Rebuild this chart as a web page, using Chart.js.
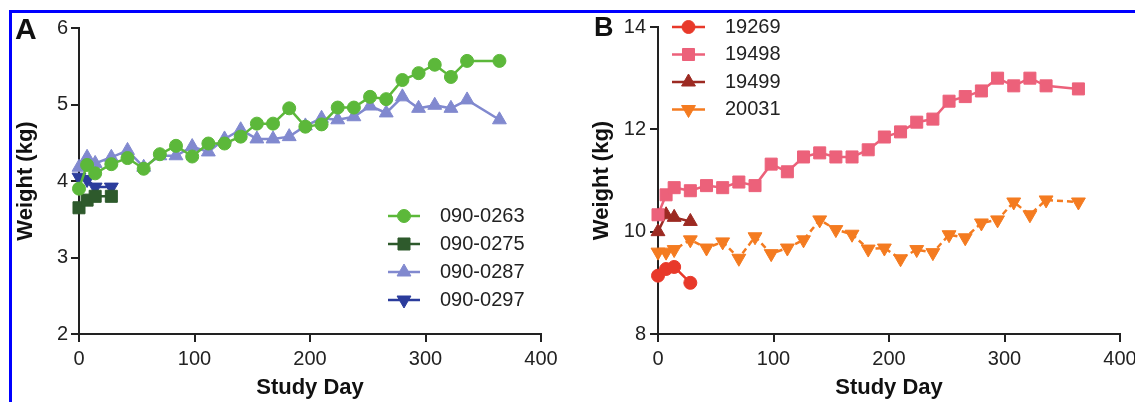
<!DOCTYPE html>
<html>
<head>
<meta charset="utf-8">
<script src="https://cdn.jsdelivr.net/npm/chart.js@4.4.1/dist/chart.umd.min.js"></script>
<style>
  html, body { margin: 0; padding: 0; background: #fff; }
  #fig { position: relative; width: 1135px; height: 402px; overflow: hidden; font-family: "Liberation Sans", Arial, sans-serif; }
  #frame { position: absolute; left: 9px; top: 10px; width: 1300px; height: 600px; border-top: 3px solid #0000ff; border-left: 3px solid #0000ff; }
  canvas { position: absolute; top: 0; }
  .tag { position: absolute; font-weight: bold; line-height: 1; color: #111; }
</style>
</head>
<body>
<div id="fig">
  <div id="frame"></div>
  <canvas id="chartA" width="567" height="402" style="left:0"></canvas>
  <canvas id="chartB" width="568" height="402" style="left:567px"></canvas>
  <div class="tag" style="left:15px;top:14px;font-size:30px">A</div>
  <div class="tag" style="left:594px;top:14px;font-size:27px">B</div>
</div>
<script>
// study days (long and short follow-up)
const daysLong = [0, 7, 14, 28, 42, 56, 70, 84, 98, 112, 126, 140, 154, 168, 182, 196, 210, 224, 238, 252, 266, 280, 294, 308, 322, 336, 364];
const daysShort = [0, 7, 14, 28];

// panel A weights (kg)
const w0263 = [3.90, 4.21, 4.10, 4.22, 4.30, 4.16, 4.35, 4.46, 4.32, 4.49, 4.49, 4.58, 4.75, 4.75, 4.95, 4.71, 4.74, 4.96, 4.96, 5.10, 5.07, 5.32, 5.41, 5.52, 5.36, 5.57, 5.57];
const w0275 = [3.65, 3.75, 3.80, 3.80];
const w0287 = [4.18, 4.31, 4.23, 4.31, 4.40, 4.18, 4.33, 4.33, 4.45, 4.38, 4.55, 4.67, 4.55, 4.55, 4.58, 4.72, 4.82, 4.80, 4.84, 4.98, 4.89, 5.10, 4.95, 4.99, 4.95, 5.06, 4.80];
const w0297 = [4.05, 4.02, 3.92, 3.92];

// panel B weights (kg)
const w19269 = [9.14, 9.27, 9.31, 9.00];
const w19498 = [10.33, 10.72, 10.86, 10.80, 10.90, 10.86, 10.97, 10.90, 11.32, 11.17, 11.46, 11.54, 11.46, 11.46, 11.60, 11.85, 11.95, 12.14, 12.20, 12.55, 12.64, 12.75, 13.00, 12.85, 13.00, 12.85, 12.79];
const w19499 = [10.00, 10.33, 10.28, 10.20];
const w20031 = [9.60, 9.60, 9.65, 9.84, 9.68, 9.80, 9.48, 9.90, 9.57, 9.68, 9.84, 10.23, 10.04, 9.95, 9.66, 9.68, 9.47, 9.65, 9.59, 9.94, 9.88, 10.17, 10.23, 10.58, 10.33, 10.62, 10.58];

const xTicks = [0, 100, 200, 300, 400];
const yTicksA = [2, 3, 4, 5, 6];
const yTicksB = [8, 10, 12, 14];

const FONT = '"Liberation Sans", Arial, sans-serif';
const INK = '#222';

function pts(days, vals) {
  return days.map((d, i) => ({ x: d, y: vals[i] }));
}

function series(label, days, vals, color, style, radius, rotation, dash) {
  return {
    label: label,
    data: pts(days, vals),
    borderColor: color,
    backgroundColor: color,
    borderWidth: 2.5,
    borderDash: dash || [],
    pointStyle: style,
    pointRadius: radius,
    pointRotation: rotation || 0,
    pointBackgroundColor: color,
    pointBorderColor: color,
    pointBorderWidth: 1,
    tension: 0,
    clip: false
  };
}

// legend with a short line through the marker, like the original figure
const lineLegend = {
  id: 'lineLegend',
  afterDatasetsDraw(chart, args, opts) {
    const ctx = chart.ctx;
    ctx.save();
    chart.data.datasets.forEach((ds, i) => {
      const y = opts.y + i * opts.gap;
      ctx.strokeStyle = ds.borderColor;
      ctx.lineWidth = ds.borderWidth;
      ctx.beginPath();
      ctx.moveTo(opts.x, y);
      ctx.lineTo(opts.x + opts.len, y);
      ctx.stroke();
      ctx.fillStyle = ds.pointBackgroundColor;
      ctx.strokeStyle = ds.pointBorderColor;
      ctx.lineWidth = 1;
      Chart.helpers.drawPoint(ctx, {
        pointStyle: ds.pointStyle,
        radius: ds.pointRadius,
        rotation: ds.pointRotation,
        borderWidth: 1
      }, opts.x + opts.len / 2, y);
      ctx.fillStyle = INK;
      ctx.font = '20px ' + FONT;
      ctx.textAlign = 'left';
      ctx.textBaseline = 'middle';
      ctx.fillText(ds.label, opts.textX, y);
    });
    ctx.restore();
  }
};

function makeChart(id, datasets, yMin, yMax, yTicks, geo) {
  return new Chart(document.getElementById(id), {
    type: 'line',
    data: { datasets: datasets },
    plugins: [lineLegend],
    options: {
      responsive: false,
      animation: false,
      devicePixelRatio: 1,
      layout: { padding: { left: 0, top: geo.top, right: geo.right, bottom: 0 } },
      plugins: {
        legend: { display: false },
        tooltip: { enabled: false },
        lineLegend: geo.legend
      },
      scales: {
        x: {
          type: 'linear',
          min: 0,
          max: 400,
          afterBuildTicks: s => { s.ticks = xTicks.map(v => ({ value: v })); },
          afterFit: s => { s.height = 68; s.paddingLeft = 0; s.paddingRight = 0; },
          grid: { drawOnChartArea: false, color: INK, lineWidth: 2, tickLength: 8 },
          border: { color: INK, width: 2 },
          ticks: { color: INK, padding: 5, font: { family: FONT, size: 20 } },
          title: { display: true, text: 'Study Day', color: '#111', padding: { top: 0, bottom: 1 }, font: { family: FONT, size: 22, weight: 'bold' } }
        },
        y: {
          type: 'linear',
          min: yMin,
          max: yMax,
          afterBuildTicks: s => { s.ticks = yTicks.map(v => ({ value: v })); },
          afterFit: s => { s.width = geo.yWidth; s.paddingTop = 0; s.paddingBottom = 0; },
          grid: { drawOnChartArea: false, color: INK, lineWidth: 2, tickLength: 8 },
          border: { color: INK, width: 2 },
          ticks: { color: INK, padding: geo.tickPad, font: { family: FONT, size: 20 } },
          title: { display: true, text: 'Weight (kg)', color: '#111', padding: { top: geo.titlePad, bottom: 0 }, font: { family: FONT, size: 22, weight: 'bold' } }
        }
      }
    }
  });
}

makeChart('chartA', [
  series('090-0263', daysLong, w0263, '#5cb83a', 'circle', 6.5),
  series('090-0275', daysShort, w0275, '#2e5a2c', 'rect', 8.5),
  series('090-0287', daysLong, w0287, '#8189cf', 'triangle', 8),
  series('090-0297', daysShort, w0297, '#2b3c9c', 'triangle', 8, 180)
], 2, 6, yTicksA, {
  top: 28, right: 26, yWidth: 79, tickPad: 3, titlePad: 13,
  legend: { x: 388, len: 32, textX: 440, y: 216, gap: 28 }
});

makeChart('chartB', [
  series('19269', daysShort, w19269, '#e8392a', 'circle', 6.5),
  series('19498', daysLong, w19498, '#ec617a', 'rect', 8.5),
  series('19499', daysShort, w19499, '#9c2a22', 'triangle', 8),
  series('20031', daysLong, w20031, '#f47b20', 'triangle', 8, 180, [6, 4])
], 8, 14, yTicksB, {
  top: 27, right: 15, yWidth: 91, tickPad: 4, titlePad: 22,
  legend: { x: 105, len: 33, textX: 158, y: 27, gap: 27.5 }
});
</script>
</body>
</html>
